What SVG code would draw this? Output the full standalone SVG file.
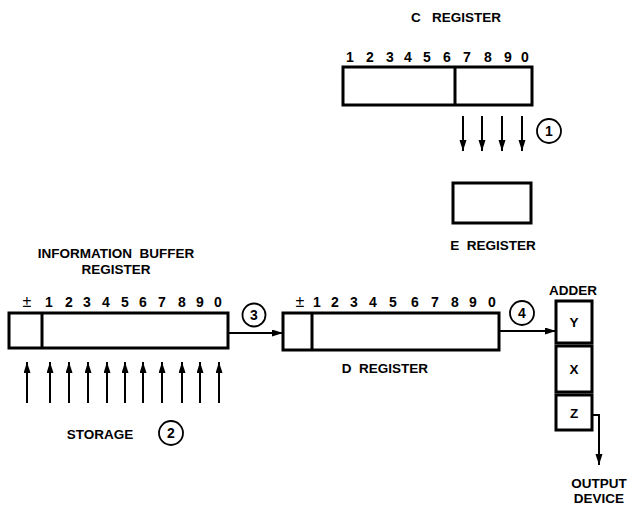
<svg xmlns="http://www.w3.org/2000/svg" width="628" height="506" viewBox="0 0 628 506">
<style>
text{font-family:"Liberation Sans",Arial,sans-serif;font-weight:bold;fill:#000;white-space:pre}
.lbl{font-size:13.5px}
.dg{font-size:14px;text-anchor:middle}
.pm{font-size:16px;font-weight:normal}
.mid{text-anchor:middle}
.box{fill:#fff;stroke:#000;stroke-width:3}
.div{stroke:#000;stroke-width:3}
.ln{stroke:#000;stroke-width:2;fill:none}
.circ{fill:#fff;stroke:#000;stroke-width:1.8}
.num{font-size:14px;text-anchor:middle}
</style>
<defs>
<marker id="ah" markerUnits="userSpaceOnUse" markerWidth="12" markerHeight="8" refX="11" refY="3.5" orient="auto">
<path d="M0,0 L11,3.5 L0,7 Z" fill="#000"/>
</marker>
</defs>
<rect width="628" height="506" fill="#fff"/>

<g id="c-register">
<text class="lbl mid" x="456" y="22" xml:space="preserve">C   REGISTER</text>
<rect class="box" x="343" y="67" width="189" height="38"/>
<line class="div" x1="455" y1="67" x2="455" y2="105"/>
<text class="dg" x="350" y="62">1</text><text class="dg" x="370" y="62">2</text><text class="dg" x="390" y="62">3</text><text class="dg" x="408" y="62">4</text><text class="dg" x="427" y="62">5</text><text class="dg" x="447" y="62">6</text><text class="dg" x="467" y="62">7</text><text class="dg" x="488" y="62">8</text><text class="dg" x="508" y="62">9</text><text class="dg" x="525" y="62">0</text>
</g>

<g id="e-register">
<rect class="box" x="453" y="183" width="78" height="40"/>
<text class="lbl mid" x="493" y="250" xml:space="preserve">E  REGISTER</text>
</g>

<g id="ib-register">
<text class="lbl mid" x="116" y="258" xml:space="preserve">INFORMATION  BUFFER</text>
<text class="lbl mid" x="116" y="274">REGISTER</text>
<rect class="box" x="9" y="313" width="219" height="35"/>
<line class="div" x1="42" y1="313" x2="42" y2="348"/>
<text class="dg pm" x="27" y="307">±</text><text class="dg" x="49" y="307">1</text><text class="dg" x="69" y="307">2</text><text class="dg" x="87" y="307">3</text><text class="dg" x="106" y="307">4</text><text class="dg" x="125" y="307">5</text><text class="dg" x="143" y="307">6</text><text class="dg" x="162" y="307">7</text><text class="dg" x="182" y="307">8</text><text class="dg" x="200" y="307">9</text><text class="dg" x="218" y="307">0</text>
</g>

<g id="storage">
<text class="lbl mid" x="100" y="439">STORAGE</text>
</g>

<g id="d-register">
<rect class="box" x="283" y="313" width="216" height="37"/>
<line class="div" x1="312" y1="313" x2="312" y2="350"/>
<text class="dg pm" x="300" y="307">±</text><text class="dg" x="317" y="307">1</text><text class="dg" x="335" y="307">2</text><text class="dg" x="354" y="307">3</text><text class="dg" x="373" y="307">4</text><text class="dg" x="393" y="307">5</text><text class="dg" x="415" y="307">6</text><text class="dg" x="435" y="307">7</text><text class="dg" x="455" y="307">8</text><text class="dg" x="473" y="307">9</text><text class="dg" x="492" y="307">0</text>
<text class="lbl mid" x="385" y="373" xml:space="preserve">D  REGISTER</text>
</g>

<g id="adder">
<text class="lbl mid" x="573" y="295">ADDER</text>
<rect class="box" x="556" y="301" width="36" height="42"/>
<rect class="box" x="556" y="346" width="36" height="46"/>
<rect class="box" x="556" y="395" width="36" height="35"/>
<text class="lbl mid" x="574" y="327">Y</text>
<text class="lbl mid" x="574" y="374">X</text>
<text class="lbl mid" x="574" y="418">Z</text>
</g>

<g id="output-device">
<text class="lbl mid" x="599" y="488">OUTPUT</text>
<text class="lbl mid" x="599" y="503">DEVICE</text>
</g>

<g id="connectors">
<line class="ln" x1="463" y1="116" x2="463" y2="151" marker-end="url(#ah)"/>
<line class="ln" x1="482" y1="116" x2="482" y2="151" marker-end="url(#ah)"/>
<line class="ln" x1="502" y1="116" x2="502" y2="151" marker-end="url(#ah)"/>
<line class="ln" x1="522" y1="116" x2="522" y2="151" marker-end="url(#ah)"/>
<line class="ln" x1="27" y1="403" x2="27" y2="362" marker-end="url(#ah)"/>
<line class="ln" x1="50" y1="403" x2="50" y2="362" marker-end="url(#ah)"/>
<line class="ln" x1="69" y1="403" x2="69" y2="362" marker-end="url(#ah)"/>
<line class="ln" x1="88" y1="403" x2="88" y2="362" marker-end="url(#ah)"/>
<line class="ln" x1="107" y1="403" x2="107" y2="362" marker-end="url(#ah)"/>
<line class="ln" x1="125" y1="403" x2="125" y2="362" marker-end="url(#ah)"/>
<line class="ln" x1="143" y1="403" x2="143" y2="362" marker-end="url(#ah)"/>
<line class="ln" x1="162" y1="403" x2="162" y2="362" marker-end="url(#ah)"/>
<line class="ln" x1="182" y1="403" x2="182" y2="362" marker-end="url(#ah)"/>
<line class="ln" x1="200" y1="403" x2="200" y2="362" marker-end="url(#ah)"/>
<line class="ln" x1="219" y1="403" x2="219" y2="362" marker-end="url(#ah)"/>
<line class="ln" x1="229" y1="333" x2="283" y2="333" marker-end="url(#ah)"/>
<line class="ln" x1="500" y1="331" x2="556" y2="331" marker-end="url(#ah)"/>
<polyline class="ln" points="593,415 599,415 599,465" marker-end="url(#ah)"/>
</g>

<g id="step-labels">
<circle class="circ" cx="549" cy="131" r="12"/><text class="num" x="549" y="136">1</text>
<circle class="circ" cx="171" cy="433" r="12"/><text class="num" x="171" y="438">2</text>
<circle class="circ" cx="254" cy="315" r="11.5"/><text class="num" x="254" y="320">3</text>
<circle class="circ" cx="522" cy="313" r="12"/><text class="num" x="522" y="318">4</text>
</g>
</svg>
